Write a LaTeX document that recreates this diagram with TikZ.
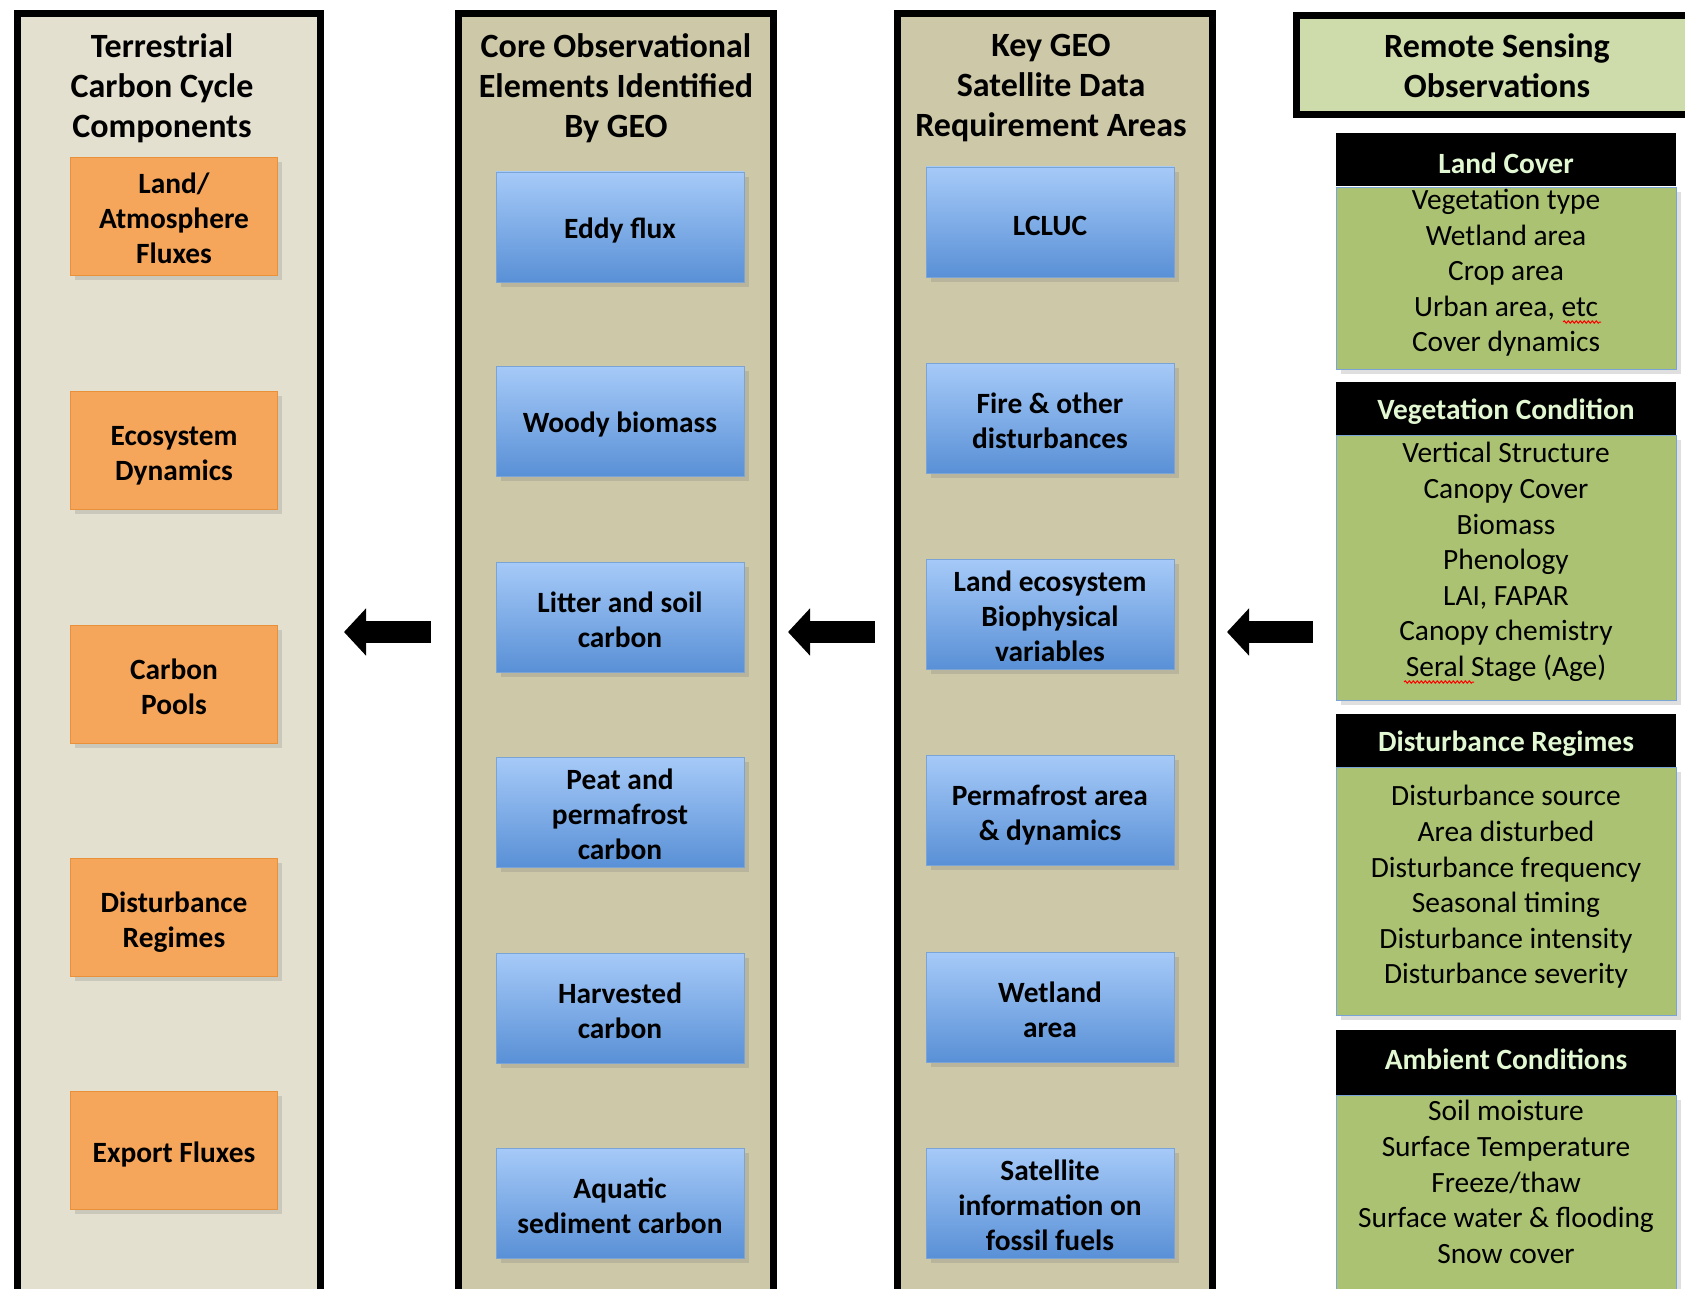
\documentclass[tikz,border=0pt]{standalone}
\usepackage{fontspec}
\setmainfont{Carlito}
\usetikzlibrary{arrows.meta,positioning,shadows,decorations.pathmorphing}

\definecolor{paleframe}{HTML}{E4E0CF}
\definecolor{tanframe}{HTML}{CDC8A8}
\definecolor{orangebox}{HTML}{F5A65B}
\definecolor{orangeline}{HTML}{E8913A}
\definecolor{bluetop}{HTML}{A6CAF8}
\definecolor{bluebot}{HTML}{5990D6}
\definecolor{blueline}{HTML}{7AA3D6}
\definecolor{rsgreen}{HTML}{CEDCAC}
\definecolor{obsgreen}{HTML}{AAC271}
\definecolor{mint}{HTML}{E2F8D2}

\newcommand{\coltitle}{\fontsize{17}{20}\selectfont\bfseries}
\newcommand{\boxtext}{\fontsize{14.7}{17.5}\selectfont\bfseries}
\newcommand{\listtext}{\fontsize{14.7}{17.8}\selectfont}

\begin{document}
\begin{tikzpicture}[x=0.5pt,y=-0.5pt,
	frame/.style={line width=3.5pt,draw=black,drop shadow={opacity=.3,shadow xshift=1.5pt,shadow yshift=-1.5pt}},
	coltitle/.style={align=center,font=\coltitle,text depth=.7pt},
	component/.style={draw=orangeline,fill=orangebox,minimum width=103.5pt,minimum height=59pt,
		align=center,font=\boxtext,execute at begin node={\rule{0pt}{14.5pt}},drop shadow={opacity=.25}},
	element/.style={draw=blueline,top color=bluetop,bottom color=bluebot,minimum width=124pt,
		minimum height=55pt,align=center,font=\boxtext,execute at begin node={\rule{0pt}{14pt}},
		drop shadow={opacity=.25}},
	twoline/.style={text height=30.5pt,text depth=0pt},
	threeline/.style={text height=47.5pt,text depth=0pt},
	bigarrow/.style={line width=11pt,-{Triangle[length=11pt,width=23pt]}},
	rshead/.style={fill=black,minimum width=170pt,minimum height=26.5pt,text=mint,font=\boxtext,
		execute at begin node={\rule{0pt}{14pt}}},
	rsbody/.style={draw=blueline,fill=obsgreen,minimum width=170pt,drop shadow={opacity=.25}},
	rslist/.style={align=center,font=\listtext},
	spell/.style={draw=red,line width=.5pt,decorate,decoration={snake,amplitude=.6pt,segment length=2pt}}]

	\useasboundingbox (0,0) rectangle (1685,1289);
	\clip (0,0) rectangle (1685,1289);

	% column frames
	\draw [frame,fill=paleframe] (17.5,13.5) rectangle (320.5,1330);
	\draw [frame,fill=tanframe] (458.5,13.5) rectangle (773.5,1330);
	\draw [frame,fill=tanframe] (897.5,13.5) rectangle (1212.5,1330);
	\draw [frame,fill=rsgreen] (1296.5,15.5) rectangle (1720,114.5);

	\node [coltitle] (t1) at (162,86) {Terrestrial\\Carbon Cycle\\Components};
	\node [coltitle] (t2) at (616,86) {Core Observational\\Elements Identified\\By GEO};
	\node [coltitle] (t3) at (1051,86) {Key GEO\\Satellite Data\\Requirement Areas};
	\node [coltitle,text depth=] (t4) at (1497,66) {Remote Sensing\\Observations};

	% carbon cycle components
	\node [component,threeline] (flux) at (174,216) {Land/\\Atmosphere\\Fluxes};
	\node [component,twoline] (dyn) at (174,450) {Ecosystem\\Dynamics};
	\node [component,twoline] (pools) at (174,684) {Carbon\\Pools};
	\node [component,twoline] (regimes) at (174,917) {Disturbance\\Regimes};
	\node [component] (export) at (174,1150) {Export Fluxes};

	% core elements
	\node [element] (eddy) at (620,227) {Eddy flux};
	\node [element] (woody) at (620,421) {Woody biomass};
	\node [element,twoline] (litter) at (620,617) {Litter and soil\\carbon};
	\node [element,threeline] (peat) at (620,812) {Peat and\\permafrost\\carbon};
	\node [element,twoline] (harvest) at (620,1008) {Harvested\\carbon};
	\node [element,twoline] (aquatic) at (620,1203) {Aquatic\\sediment carbon};

	% requirement areas
	\node [element] (lcluc) at (1050,222) {LCLUC};
	\node [element,twoline] (fire) at (1050,418) {Fire \& other\\disturbances};
	\node [element,threeline] (biophys) at (1050,614) {Land ecosystem\\Biophysical\\variables};
	\node [element,twoline] (perma) at (1050,810) {Permafrost area\\\& dynamics};
	\node [element,twoline] (wetland) at (1050,1007) {Wetland\\area};
	\node [element,threeline] (fossil) at (1050,1203) {Satellite\\information on\\fossil fuels};

	% arrows between the columns
	\coordinate (a1s) at (431,632);
	\coordinate (a1e) at (344,632);
	\coordinate (a2s) at (875,632);
	\coordinate (a2e) at (788,632);
	\coordinate (a3s) at (1313,632);
	\coordinate (a3e) at (1227,632);
	\draw [bigarrow] (a1s) -- (a1e);
	\draw [bigarrow] (a2s) -- (a2e);
	\draw [bigarrow] (a3s) -- (a3e);

	% remote sensing observations
	\node [rshead] (lchead) at (1506,160) {Land Cover};
	\node [rsbody,minimum height=91pt,below=0pt of lchead] (lcbody) {};
	\node [rslist] (lclist) at (1506,273) {Vegetation type\\Wetland area\\Crop area\\Urban area, etc\\Cover dynamics};

	\node [rshead] (vchead) at (1506,408) {Vegetation Condition};
	\node [rsbody,minimum height=132.5pt,below=0pt of vchead] (vcbody) {};
	\node [rslist] (vclist) at (1506,562) {Vertical Structure\\Canopy Cover\\Biomass\\Phenology\\LAI, FAPAR\\Canopy chemistry\\Seral Stage (Age)};

	\node [rshead] (drhead) at (1506,740) {Disturbance Regimes};
	\node [rsbody,minimum height=124pt,below=0pt of drhead] (drbody) {};
	\node [rslist] (drlist) at (1506,887) {Disturbance source\\Area disturbed\\Disturbance frequency\\Seasonal timing\\Disturbance intensity\\Disturbance severity};

	\node [rshead,minimum height=32.5pt,text depth=6.4pt] (achead) at (1506,1062) {Ambient Conditions};
	\node [rsbody,minimum height=160pt,below=0pt of achead] (acbody) {};
	\node [rslist] (aclist) at (1506,1182) {Soil moisture\\Surface Temperature\\Freeze/thaw\\Surface water \& flooding\\Snow cover};

	% spell check marks
	\draw [spell] (1563,322) -- (1601,322);
	\draw [spell] (1404,682) -- (1474,682);
\end{tikzpicture}
\end{document}
